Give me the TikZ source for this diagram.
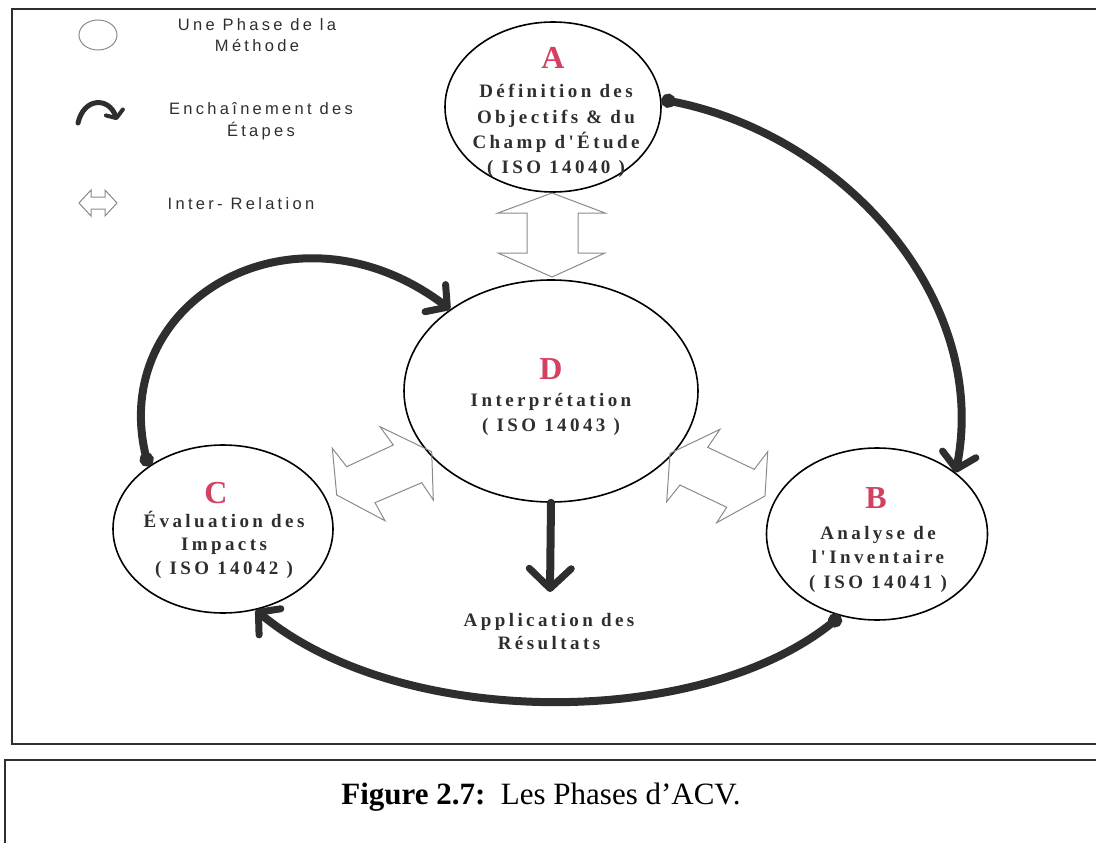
\documentclass[tikz,border=0pt]{standalone}
\usepackage{fontspec}
\setmainfont{Liberation Serif}
\newfontfamily\phasefont[LetterSpace=18]{Liberation Serif}
\newfontfamily\legendfont[LetterSpace=20]{Liberation Sans}
\usetikzlibrary{arrows.meta,shapes.geometric}
\definecolor{ink}{HTML}{2E2E2E}
\definecolor{phasered}{HTML}{D4405F}
\definecolor{relgray}{HTML}{8A8A8A}
\begin{document}
\begin{tikzpicture}[x=1pt,y=-1pt,
  frameline/.style={draw=ink, line width=2pt},
  phase/.style={draw=black, line width=1.6pt, ellipse, inner sep=0pt},
  letter/.style={text=phasered, font=\bfseries\fontsize{32}{32}\selectfont, inner sep=0pt, anchor=base},
  phasetext/.style={text=ink, font=\phasefont\bfseries\fontsize{19}{25}\selectfont, inner sep=0pt, anchor=base},
  legendtext/.style={text=ink, font=\legendfont\fontsize{16.5}{21}\selectfont, inner sep=0pt, anchor=base},
  flow/.style={draw=ink, line width=8pt, line cap=round,
    {Circle[length=14pt]}-{Straight Barb[length=15pt,width=34pt,line width=7pt,round]}},
  relation/.style={draw=relgray, line width=1pt, line join=miter}]

\useasboundingbox (0,0) rectangle (1096,843);

% frames
\draw[frameline] (1096,9) -- (12,9) -- (12,744) -- (1096,744);
\draw[frameline] (1096,760) -- (5,760) -- (5,843);

% legend
\node[draw=relgray, line width=1pt, ellipse, minimum width=38pt, minimum height=30pt, inner sep=0pt] (legA) at (98,35) {};
\node[legendtext] (legAt1) at (257,31) {Une Phase de la};
\node[legendtext] (legAt2) at (257,52) {Méthode};
\draw[ink, line width=5pt, line cap=round,
  -{Straight Barb[length=6pt,width=18pt,line width=4pt,round]}]
  (78,123) .. controls (84,97) and (109,97) .. (117,120);
\node[legendtext] (legBt1) at (261,114) {Enchaînement des};
\node[legendtext] (legBt2) at (261,136) {Étapes};
\draw[relation] (79,203) -- (91,190) -- (91,197) -- (105,197) -- (105,190) -- (117,203)
  -- (105,216) -- (105,209) -- (91,209) -- (91,216) -- cycle;
\node[legendtext] (legCt) at (241,209) {Inter- Relation};

% phases
\node[phase, minimum width=216pt, minimum height=170pt] (A) at (553,107) {};
\node[phase, minimum width=221pt, minimum height=172pt] (B) at (877,534) {};
\node[phase, minimum width=220pt, minimum height=168pt] (C) at (223,529) {};
\node[phase, minimum width=294pt, minimum height=222pt] (D) at (551,391) {};

\node[letter] (Al) at (553,69) {A};
\node[phasetext] (At1) at (556,98) {Définition des};
\node[phasetext] (At2) at (556,123) {Objectifs \& du};
\node[phasetext] (At3) at (556,148) {Champ d'Étude};
\node[phasetext] (At4) at (556,173) {( ISO 14040 )};

\node[letter] (Dl) at (551,379) {D};
\node[phasetext] (Dt1) at (551,406) {Interprétation};
\node[phasetext] (Dt2) at (551,431) {( ISO 14043 )};

\node[letter] (Cl) at (216,503) {C};
\node[phasetext] (Ct1) at (224,527) {Évaluation des};
\node[phasetext] (Ct2) at (224,550) {Impacts};
\node[phasetext] (Ct3) at (224,574) {( ISO 14042 )};

\node[letter] (Bl) at (876,508) {B};
\node[phasetext] (Bt1) at (878,539) {Analyse de};
\node[phasetext] (Bt2) at (878,563) {l'Inventaire};
\node[phasetext] (Bt3) at (878,588) {( ISO 14041 )};

\node[phasetext] (R1) at (549,626) {Application des};
\node[phasetext] (R2) at (549,649) {Résultats};
\coordinate (Rtop) at (550,592);

% inter-relations
\draw[relation] (552,193) -- (605,213) -- (578,213) -- (578,253) -- (605,253) -- (552,277)
  -- (498,253) -- (527,253) -- (527,213) -- (498,213) -- cycle;
\draw[relation] (332.3,448.3) -- (346.7,466.7) -- (393.3,445) -- (380,426.7) -- (431.7,451.7)
  -- (433.3,500) -- (421.7,482.7) -- (375,502.7) -- (385,520.7) -- (336.7,495) -- cycle;
\draw[relation] (670,453.3) -- (720,429.3) -- (707.7,447.3) -- (754.3,469.3) -- (767.7,451.7)
  -- (765,496) -- (716.7,522.7) -- (726.7,507.3) -- (680,485) -- (666.7,501.7) -- cycle;

% sequence of phases
\draw[flow] (A.4) .. controls (845,135) and (990,300) .. (B.38);
\draw[flow] (B.246) .. controls (700,730) and (400,730) .. (C.292);
\draw[flow] (C.140) .. controls (108,300) and (295,192) .. (D.141);
\draw[draw=ink, line width=8pt, line cap=round,
  -{Straight Barb[length=20pt,width=42pt,line width=7pt,round]}] (D.south) -- (Rtop);

% caption
\node[inner sep=0pt, text=black, font=\fontsize{31}{31}\selectfont] (cap) at (541,797)
  {\textbf{Figure 2.7:}~~Les Phases d'ACV.};
\end{tikzpicture}
\end{document}
